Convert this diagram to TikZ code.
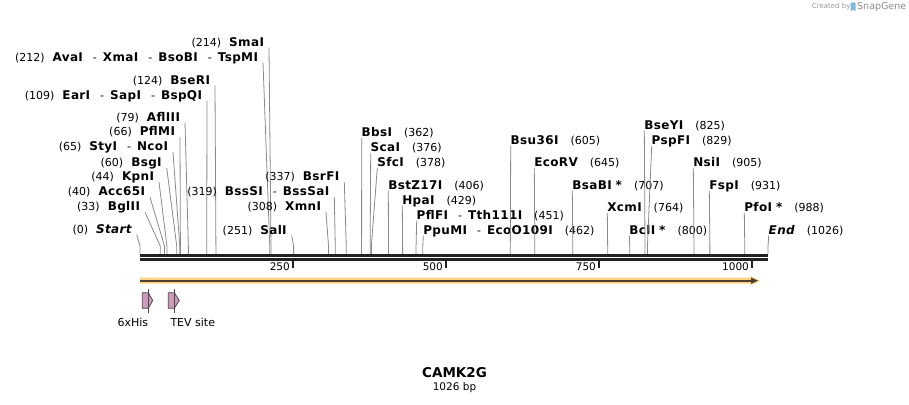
\documentclass[tikz,border=0pt]{standalone}
\usepackage{fontspec}
\setmainfont{DejaVu Sans}[ItalicFont={DejaVu Sans Oblique},BoldFont={DejaVu Sans Bold},BoldItalicFont={DejaVu Sans Bold Oblique}]
\newfontfamily\labb{DejaVu Sans Bold}[LetterSpace=3,ItalicFont={DejaVu Sans Bold Oblique}]
\definecolor{leadgray}{HTML}{8A8A8A}
\definecolor{rulecol}{HTML}{222222}
\definecolor{orangeband}{HTML}{FFD27F}
\definecolor{darkarrow}{HTML}{4D4033}
\definecolor{featpink}{HTML}{CC9BB9}
\definecolor{featedge}{HTML}{4A4A4A}
\definecolor{sgblue}{HTML}{7DB8E3}
\newcommand\bnm[1]{{\labb\fontsize{12}{13}\selectfont #1}}
\newcommand\inm[1]{{\labb\fontsize{12}{13}\selectfont\itshape #1}}
\newcommand\lgap{\hspace{8pt}}
\newcommand\rgap{\hspace{12pt}}
\newcommand\rsep{\hspace{10pt}-\hspace{6pt}}
\newcommand\stgap{\hspace{4pt}}
\tikzset{
  lab/.style={inner sep=0pt, outer sep=0pt, font=\fontsize{11}{13}\selectfont, text=black},
  leader/.style={draw=leadgray, line width=0.8pt},
  rulerline/.style={draw=rulecol, line width=2.7pt},
  tickline/.style={draw=rulecol, line width=2pt},
  ticklab/.style={inner sep=0pt, font=\fontsize{10.5}{12}\selectfont, anchor=east},
  feat/.style={fill=featpink, draw=featedge, line width=0.8pt, line join=miter},
  featlab/.style={inner sep=0pt, font=\fontsize{11}{13}\selectfont},
}
% left label: name, x of right end, centre y, bp, text
\newcommand\llab[5]{%
  \node[lab, anchor=base east] (#1) at (#2,{#3+4}) {#5};
  \coordinate (#1k) at ({140+#4*0.6121},246);
  \coordinate (#1s) at ({140+#4*0.6121},254);
  \draw[leader] ([shift={(5,1.5)}]#1.base east) -- (#1k) -- (#1s);}
% right label: name, x of left end, centre y, bp, text
\newcommand\rlab[5]{%
  \node[lab, anchor=base west] (#1) at (#2,{#3+4}) {#5};
  \coordinate (#1k) at ({140+#4*0.6121},246);
  \coordinate (#1s) at ({140+#4*0.6121},254);
  \draw[leader] ([shift={(0,1.5)}]#1.base west) -- (#1k) -- (#1s);}
\begin{document}
\begin{tikzpicture}[x=1pt,y=-1pt]
\useasboundingbox (0,0) rectangle (909,404);
\fill[white] (0,0) rectangle (909,404);

% left-side labels
\llab{L214}{264}{42}{214}{(214)\lgap\bnm{SmaI}}
\llab{L212}{258}{57}{212}{(212)\lgap\bnm{AvaI}\rsep\bnm{XmaI}\rsep\bnm{BsoBI}\rsep\bnm{TspMI}}
\llab{L124}{210}{80}{124}{(124)\lgap\bnm{BseRI}}
\llab{L109}{202}{95}{109}{(109)\lgap\bnm{EarI}\rsep\bnm{SapI}\rsep\bnm{BspQI}}
\llab{L79}{180}{117}{79}{(79)\lgap\bnm{AflIII}}
\llab{L66}{175}{131.7}{66}{(66)\lgap\bnm{PflMI}}
\llab{L65}{168}{146.7}{65}{(65)\lgap\bnm{StyI}\rsep\bnm{NcoI}}
\llab{L60}{161.7}{162.3}{60}{(60)\lgap\bnm{BsgI}}
\llab{L44}{154}{176.7}{44}{(44)\lgap\bnm{KpnI}}
\llab{L40}{145}{191.7}{40}{(40)\lgap\bnm{Acc65I}}
\llab{L33}{140}{206.7}{33}{(33)\lgap\bnm{BglII}}
\llab{L0}{131.7}{229.3}{0}{(0)\lgap\inm{Start}}
\llab{L337}{339.3}{176.7}{337}{(337)\lgap\bnm{BsrFI}}
\llab{L319}{329.3}{191.7}{319}{(319)\lgap\bnm{BssSI}\rsep\bnm{BssSaI}}
\llab{L308}{321}{206.7}{308}{(308)\lgap\bnm{XmnI}}
\llab{L251}{286.7}{230}{251}{(251)\lgap\bnm{SalI}}

% right-side labels
\rlab{R362}{361.7}{132.7}{362}{\bnm{BbsI}\rgap(362)}
\rlab{R376}{370.7}{147.3}{376}{\bnm{ScaI}\rgap(376)}
\rlab{R378}{377.3}{162.3}{378}{\bnm{SfcI}\rgap(378)}
\rlab{R406}{388.3}{185}{406}{\bnm{BstZ17I}\rgap(406)}
\rlab{R429}{402.3}{200}{429}{\bnm{HpaI}\rgap(429)}
\rlab{R451}{416.7}{215}{451}{\bnm{PflFI}\rsep\bnm{Tth111I}\rgap(451)}
\rlab{R462}{423.3}{230}{462}{\bnm{PpuMI}\rsep\bnm{EcoO109I}\rgap(462)}
\rlab{R605}{510.7}{140}{605}{\bnm{Bsu36I}\rgap(605)}
\rlab{R645}{534.3}{162.3}{645}{\bnm{EcoRV}\rgap(645)}
\rlab{R707}{572.3}{185}{707}{\bnm{BsaBI\stgap*}\rgap(707)}
\rlab{R764}{607.3}{207.3}{764}{\bnm{XcmI}\rgap(764)}
\rlab{R800}{629.3}{230}{800}{\bnm{BclI\stgap*}\rgap(800)}
\rlab{R825}{644.3}{125}{825}{\bnm{BseYI}\rgap(825)}
\rlab{R829}{651.7}{140.7}{829}{\bnm{PspFI}\rgap(829)}
\rlab{R905}{693.3}{162.3}{905}{\bnm{NsiI}\rgap(905)}
\rlab{R931}{709.3}{185}{931}{\bnm{FspI}\rgap(931)}
\rlab{R988}{744.3}{207.3}{988}{\bnm{PfoI\stgap*}\rgap(988)}
\rlab{R1026}{768.7}{230}{1026}{\inm{End}\rgap(1026)}

% ruler
\draw[rulerline] (140,255.3) -- (768,255.3);
\draw[rulerline] (140,259.7) -- (768,259.7);
\foreach \v/\x in {250/293.0,500/446.05,750/599.1,1000/752.1}{
  \draw[tickline] (\x,260) -- (\x,268);
  \node[ticklab] (t\v) at (\x-3,266.5) {\v};
}

% orange arrow
\fill[orangeband] (140,277.7) -- (750,277.7) -- (750,276) -- (760.5,280.7) -- (750,285.4) -- (750,283.7) -- (140,283.7) -- cycle;
\draw[draw=darkarrow, line width=2pt] (140,280.7) -- (752,280.7);
\fill[darkarrow] (751,277.6) -- (758,280.7) -- (751,283.8) -- cycle;

% features
\draw[feat] (142.3,292.7) -- (148.3,292.7) -- (152.7,300.5) -- (148.3,308.3) -- (142.3,308.3) -- cycle;
\draw[featedge, line width=0.9pt] (148.3,289) -- (148.3,313);
\draw[feat] (168.3,292.7) -- (174.3,292.7) -- (179.3,300.5) -- (174.3,308.3) -- (168.3,308.3) -- cycle;
\draw[featedge, line width=0.9pt] (174.3,289) -- (174.3,313);
\node[featlab] (his) at (132.8,322.7) {6xHis};
\node[featlab] (tev) at (192.8,322.7) {TEV site};

% title
\node[inner sep=0pt, font=\bfseries\fontsize{13.5}{15}\selectfont] (title) at (454.5,373) {CAMK2G};
\node[inner sep=0pt, font=\fontsize{10.5}{12}\selectfont] (len) at (454.5,388) {1026 bp};

% credit
\node[inner sep=0pt, anchor=west, font=\fontsize{7}{8}\selectfont, text=black!40] (cr) at (811.7,7) {Created by};
\fill[sgblue, rounded corners=1pt] (850.5,2.5) -- (855.5,2.5) -- (855.5,11.5) -- (853,9.5) -- (850.5,11.5) -- cycle;
\node[inner sep=0pt, anchor=west, font=\fontsize{9.5}{11}\selectfont, text=black!45] (sg) at (857,7) {SnapGene};
\end{tikzpicture}
\end{document}
